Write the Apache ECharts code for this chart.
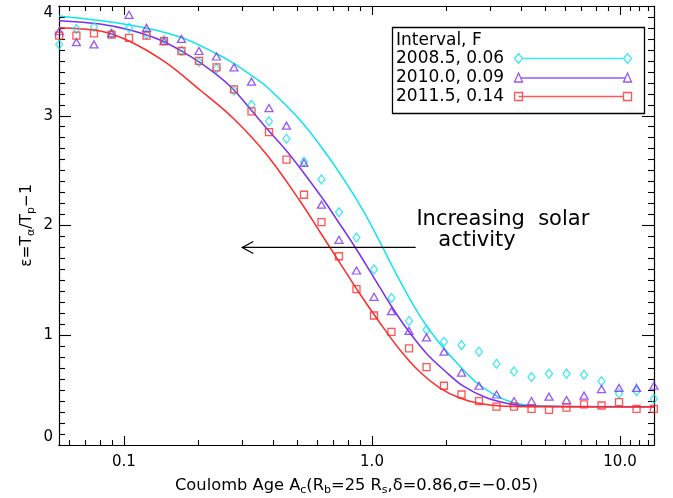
<!DOCTYPE html>
<html>
<head>
<meta charset="utf-8">
<script src="https://cdn.jsdelivr.net/npm/echarts@6/dist/echarts.min.js"></script>
<style>
  html, body { margin: 0; padding: 0; background: #fff; }
  #chart { width: 673px; height: 498px; }
</style>
</head>
<body>
<div id="chart"></div>
<script>
// Coulomb age of every measured bin (same bins for all three intervals)
const ageBins = [0.0548, 0.0643, 0.0757, 0.0891, 0.1048, 0.1233, 0.1450, 0.1705, 0.2006, 0.2360,
                 0.2777, 0.3267, 0.3843, 0.4520, 0.5318, 0.6256, 0.7360, 0.8659, 1.019, 1.198,
                 1.410, 1.659, 1.951, 2.296, 2.701, 3.177, 3.738, 4.397, 5.173, 6.085,
                 7.159, 8.422, 9.908, 11.66, 13.70];

// measured epsilon = Ta/Tp - 1
const eps2008 = [3.65, 3.79, 3.81, 3.75, 3.80, 3.74, 3.69, 3.59, 3.49, 3.43,
                 3.23, 3.10, 2.95, 2.79, 2.58, 2.42, 2.12, 1.89, 1.60, 1.34,
                 1.13, 1.05, 0.94, 0.91, 0.85, 0.74, 0.67, 0.62, 0.65, 0.65,
                 0.64, 0.58, 0.47, 0.49, 0.42];
const eps2010 = [3.77, 3.67, 3.65, 3.75, 3.92, 3.80, 3.68, 3.70, 3.59, 3.54,
                 3.44, 3.31, 3.07, 2.91, 2.57, 2.19, 1.87, 1.59, 1.35, 1.22,
                 1.04, 0.98, 0.85, 0.66, 0.54, 0.46, 0.40, 0.40, 0.44, 0.41,
                 0.45, 0.51, 0.52, 0.52, 0.54];
const eps2011 = [3.73, 3.73, 3.75, 3.74, 3.71, 3.73, 3.68, 3.59, 3.50, 3.44,
                 3.24, 3.04, 2.85, 2.60, 2.28, 2.03, 1.72, 1.42, 1.18, 1.03,
                 0.88, 0.71, 0.54, 0.46, 0.40, 0.35, 0.35, 0.33, 0.32, 0.34,
                 0.37, 0.36, 0.39, 0.33, 0.33];

// fitted curves
const fitAge2008 = [0.0547, 0.1057, 0.1682, 0.2371, 0.2751, 0.3375, 0.3772, 0.5125, 0.6463, 0.8153,
                    0.9371, 1.087, 1.297, 1.561, 1.828, 2.202, 2.651, 3.192, 3.703, 4.336, 5.73, 13.71];
const fit2008    = [3.909, 3.827, 3.718, 3.563, 3.481, 3.344, 3.262, 2.961, 2.670, 2.333,
                    2.105, 1.831, 1.494, 1.175, 0.957, 0.747, 0.565, 0.446, 0.387, 0.360, 0.351, 0.349];
const fitAge2010 = [0.0547, 0.0800, 0.1057, 0.1397, 0.1845, 0.2350, 0.2751, 0.3282, 0.3843, 0.4458,
                    0.5125, 0.6345, 0.7229, 0.8541, 1.038, 1.182, 1.384, 1.666, 1.970, 2.328,
                    2.909, 3.601, 4.336, 13.71];
const fit2010    = [3.866, 3.836, 3.781, 3.690, 3.544, 3.380, 3.244, 3.043, 2.861, 2.697,
                    2.524, 2.241, 2.050, 1.804, 1.494, 1.285, 1.057, 0.829, 0.674, 0.538,
                    0.428, 0.374, 0.355, 0.349];
const fitAge2011 = [0.0547, 0.0800, 0.1048, 0.1463, 0.2025, 0.2751, 0.3772, 0.5125, 0.6171, 0.7430,
                    0.8946, 1.077, 1.297, 1.561, 1.880, 2.263, 2.726, 3.282, 4.336, 13.71];
const fit2011    = [3.802, 3.772, 3.681, 3.490, 3.235, 2.979, 2.642, 2.223, 1.941, 1.658,
                    1.376, 1.112, 0.866, 0.665, 0.519, 0.428, 0.378, 0.355, 0.349, 0.349];

const seriesNames = ['2008.5, 0.06', '2010.0, 0.09', '2011.5, 0.14'];
const xMajorTicks = [0.1, 1, 10];
const xMinorTicks = [0.06, 0.07, 0.08, 0.09, 0.2, 0.3, 0.4, 0.5, 0.6, 0.7, 0.8, 0.9,
                     2, 3, 4, 5, 6, 7, 8, 9, 11, 12, 13];

// "Increasing solar activity" arrow (data coordinates)
const arrowFrom = [1.5, 1.8];
const arrowTo = [0.3, 1.8];
const noteLines = ['Increasing  solar', 'activity'];

const font = 'DejaVu Sans';
const colors = ['#10e4ec', '#7a2ff5', '#ff2b2b'];
const symbols = ['diamond', 'triangle', 'rect'];
const symbolSizes = [[7, 9], [8, 7], 7];
const legendIcons = [
    'path://M0,5 L4,0 L8,5 L4,10 Z M8,5 L109,5 M109,5 L113,0 L117,5 L113,10 Z',
    'path://M0,10 L4,1 L8,10 Z M6,6 L111,6 M109,10 L113,1 L117,10 Z',
    'path://M0,1 L8,1 L8,9 L0,9 Z M4,5 L109,5 M109,1 L117,1 L117,9 L109,9 Z'
];

function zip(xs, ys) {
    return xs.map((x, i) => [x, ys[i]]);
}

const measured = [eps2008, eps2010, eps2011];
const fits = [zip(fitAge2008, fit2008), zip(fitAge2010, fit2010), zip(fitAge2011, fit2011)];

const xRange = {min: 0.0547, max: 13.71};
function xAxisDef(position, values, tickLen, labels) {
    return {
        type: 'log', logBase: 10, position: position, min: xRange.min, max: xRange.max,
        axisLine: {show: true, onZero: false, lineStyle: {color: '#000', width: 1.2}},
        axisTick: {show: true, inside: true, length: tickLen, customValues: values,
                   lineStyle: {color: '#000', width: 1.1}},
        axisLabel: {show: labels, customValues: values, margin: 10, fontSize: 15, color: '#000',
                    fontFamily: font, formatter: v => Number(v).toFixed(1)},
        minorTick: {show: false}, splitLine: {show: false}
    };
}
function yAxisDef(position, labels) {
    return {
        type: 'value', position: position, min: 0, max: 4, interval: 1,
        axisLine: {show: true, onZero: false, lineStyle: {color: '#000', width: 1.2}},
        axisTick: {show: true, inside: true, length: 12, lineStyle: {color: '#000', width: 1.1}},
        minorTick: {show: true, splitNumber: 10, length: 6, lineStyle: {color: '#000', width: 1.1}},
        axisLabel: {show: labels, margin: 6, fontSize: 15, color: '#000', fontFamily: font,
                    verticalAlignMinLabel: 'bottom', verticalAlignMaxLabel: 'top'},
        splitLine: {show: false}
    };
}

function richSub(size) {
    return {
        n: {fontSize: size, lineHeight: 20, fontFamily: font, color: '#000'},
        s: {fontSize: 11, lineHeight: 11, verticalAlign: 'bottom', fontFamily: font, color: '#000'}
    };
}

let xAxes = [
    xAxisDef('bottom', xMajorTicks, 9, true),
    xAxisDef('bottom', xMinorTicks, 5, false),
    xAxisDef('top', xMajorTicks, 9, false),
    xAxisDef('top', xMinorTicks, 5, false)
];
xAxes[0].name = '{n|Coulomb Age A}{s|c}{n|(R}{s|b}{n|=25 R}{s|s}{n|,\u03b4=0.86,\u03c3=\u22120.05)}';
xAxes[0].nameLocation = 'middle';
xAxes[0].nameGap = 31;
xAxes[0].nameMoveOverlap = false;
xAxes[0].nameTextStyle = {rich: richSub(16.3)};

let yAxes = [yAxisDef('left', true), yAxisDef('right', false)];
yAxes[0].name = '{n|\u03b5=T}{s|\u03b1}{n|/T}{s|p}{n|\u22121}';
yAxes[0].nameLocation = 'middle';
yAxes[0].nameGap = 22;
yAxes[0].nameMoveOverlap = false;
yAxes[0].nameTextStyle = {rich: richSub(15.5)};

let series = [];
for (let i = 0; i < 3; i++) {
    series.push({
        type: 'line', name: 'fit ' + seriesNames[i], data: fits[i],
        smooth: 0.35, showSymbol: false, symbol: 'none',
        lineStyle: {color: colors[i], width: 1.5}, z: 2
    });
}
for (let i = 0; i < 3; i++) {
    series.push({
        type: 'scatter', name: seriesNames[i], data: zip(ageBins, measured[i]),
        symbol: symbols[i], symbolSize: symbolSizes[i], clip: false,
        itemStyle: {color: 'transparent', borderColor: colors[i], borderWidth: 1.3}, z: 3
    });
}
series.push({
    type: 'custom', coordinateSystem: 'cartesian2d', silent: true, z: 4,
    data: [arrowFrom],
    renderItem: function (params, api) {
        const a = api.coord(arrowFrom);
        const b = api.coord(arrowTo);
        const t1 = api.coord([1.51, 2.05]);
        const t2 = api.coord([1.85, 1.86]);
        return {
            type: 'group',
            children: [
                {type: 'line', shape: {x1: a[0], y1: a[1], x2: b[0], y2: b[1]},
                 style: {stroke: '#000', lineWidth: 1.3}},
                {type: 'polyline', shape: {points: [[b[0] + 11, b[1] - 6], [b[0], b[1]], [b[0] + 11, b[1] + 6]]},
                 style: {stroke: '#000', fill: null, lineWidth: 1.3}},
                {type: 'text', style: {text: noteLines[0], x: t1[0], y: t1[1], fill: '#000',
                 fontSize: 21, fontFamily: font, align: 'left', verticalAlign: 'middle'}},
                {type: 'text', style: {text: noteLines[1], x: t2[0], y: t2[1], fill: '#000',
                 fontSize: 21, fontFamily: font, align: 'left', verticalAlign: 'middle'}}
            ]
        };
    }
});

const chart = echarts.init(document.getElementById('chart'), null, {renderer: 'canvas'});
chart.setOption({
    animation: false,
    backgroundColor: '#fff',
    textStyle: {fontFamily: font},
    title: {
        text: 'Interval, F', left: 396, top: 32, padding: 0,
        textStyle: {fontSize: 17, fontWeight: 'normal', color: '#000', fontFamily: font}
    },
    // legend frame
    graphic: [{
        type: 'rect', left: 390, top: 25, silent: true, z: 10,
        shape: {width: 252, height: 86},
        style: {fill: null, stroke: '#000', lineWidth: 1.3}
    }],
    grid: {left: 59, right: 19, top: 6, bottom: 53, containLabel: false, outerBoundsMode: 'none'},
    legend: {
        data: seriesNames.map((n, i) => ({
            name: n, icon: legendIcons[i],
            itemStyle: {color: 'transparent', borderColor: colors[i], borderWidth: 1.3}
        })),
        orient: 'vertical', left: 390, top: 25, padding: [25, 11, 6, 6],
        itemGap: 2, itemWidth: 117, itemHeight: 10, align: 'right', symbolKeepAspect: true,
        borderWidth: 0, selectedMode: false,
        formatter: n => n + ' ',
        textStyle: {fontSize: 17, color: '#000', fontFamily: font}
    },
    xAxis: xAxes,
    yAxis: yAxes,
    series: series
});
</script>
</body>
</html>
